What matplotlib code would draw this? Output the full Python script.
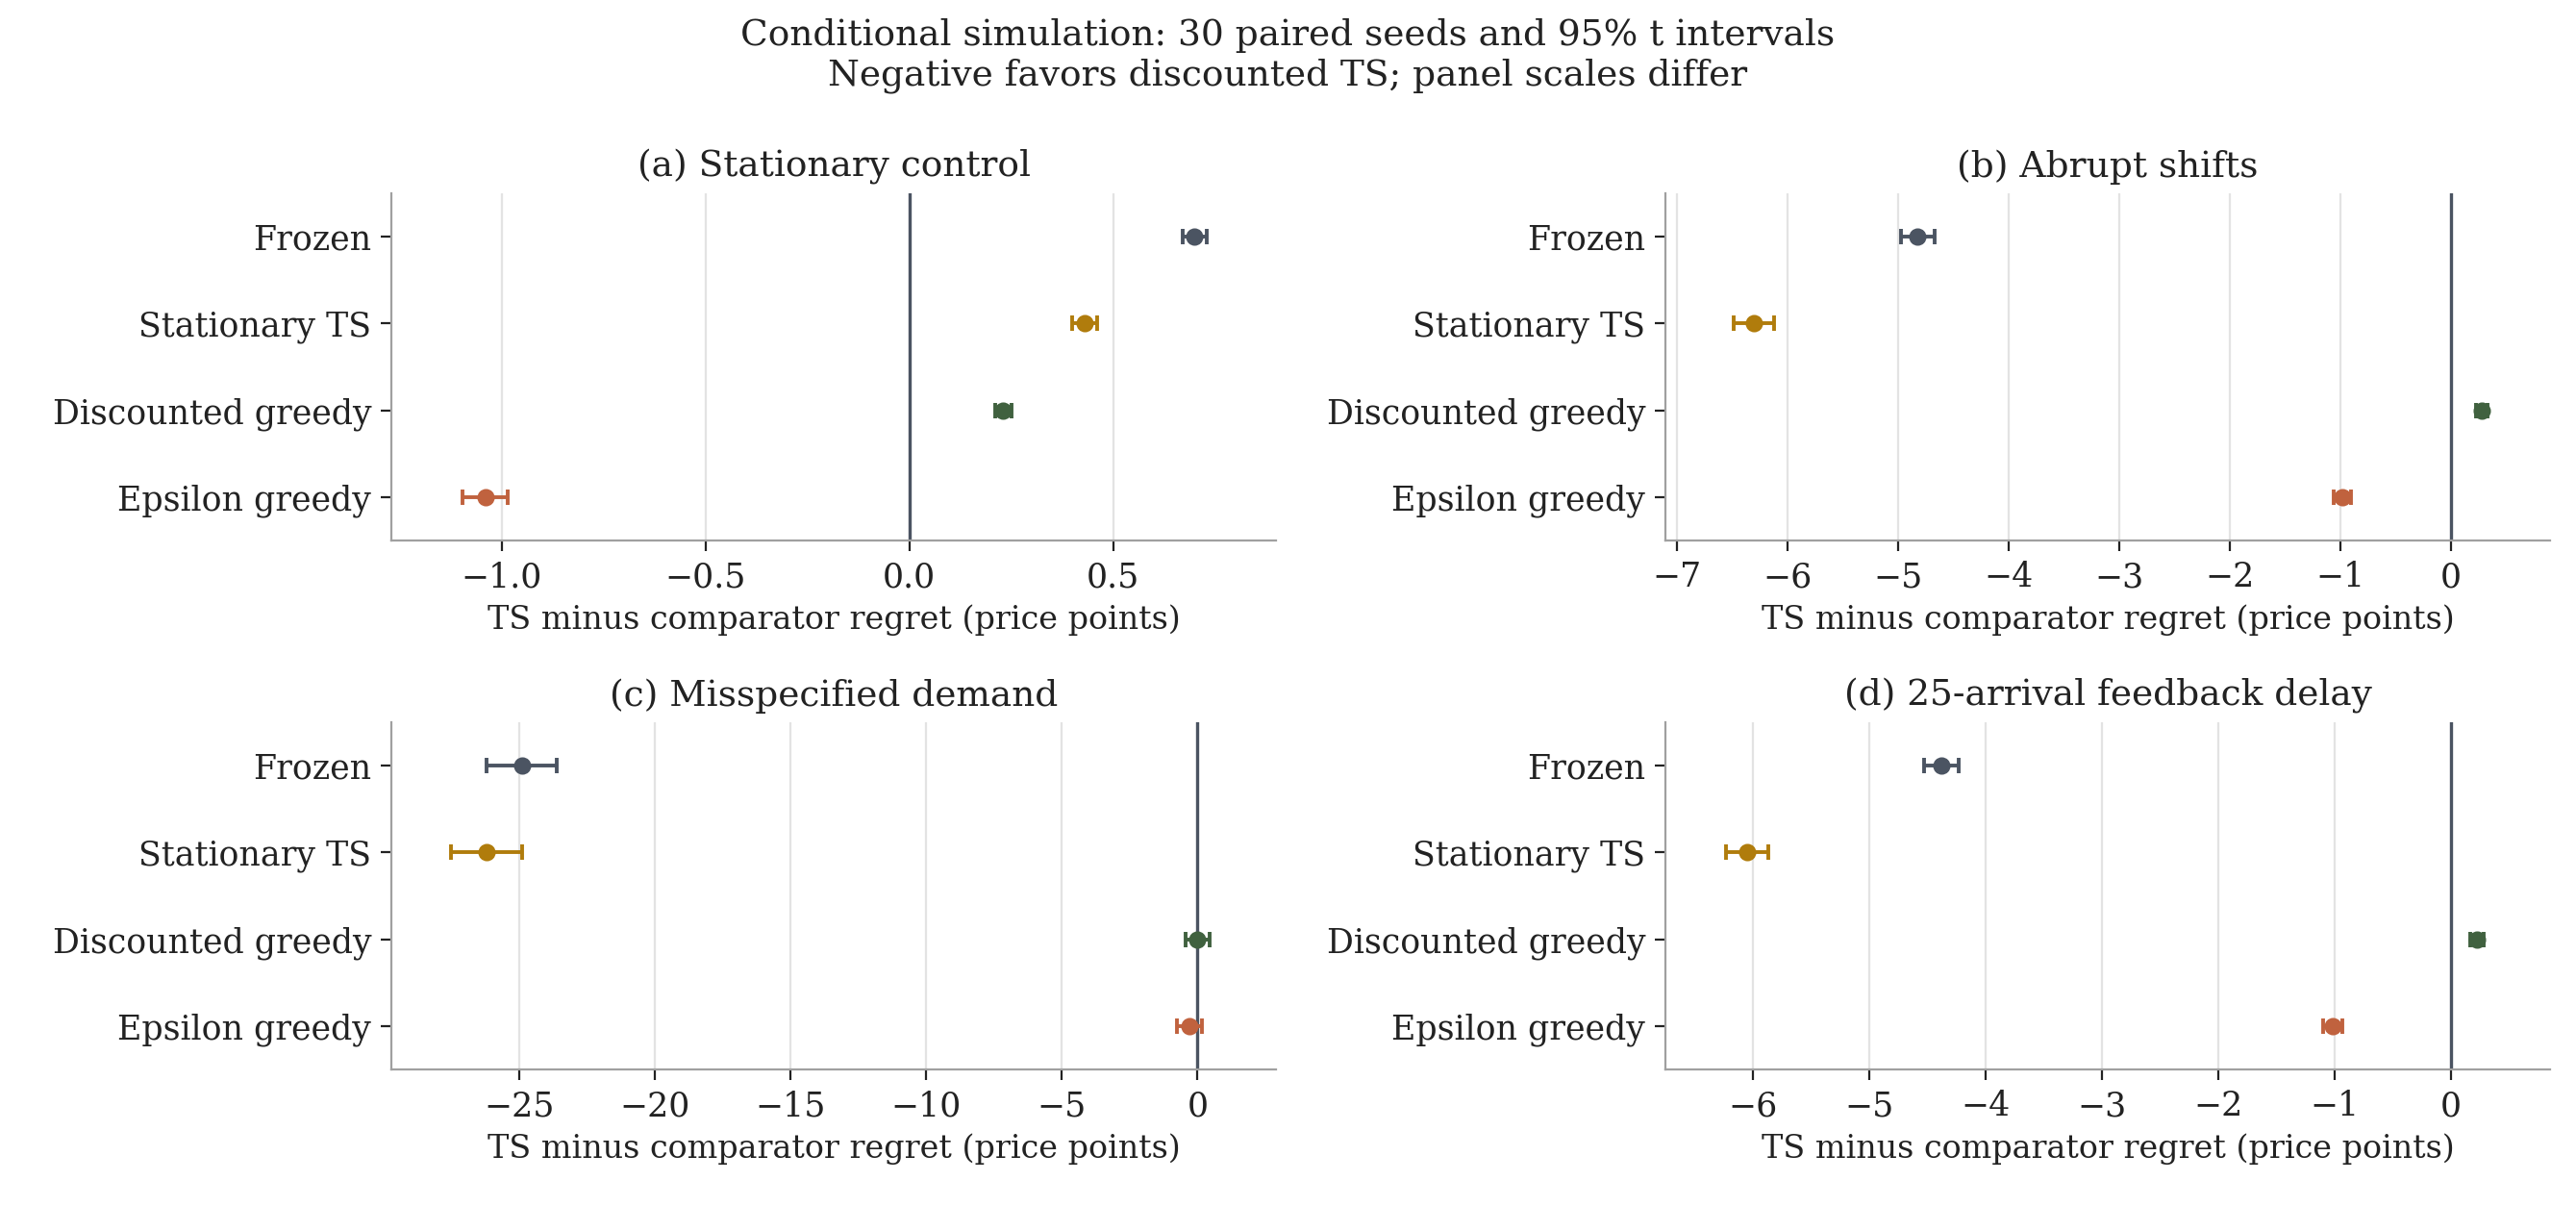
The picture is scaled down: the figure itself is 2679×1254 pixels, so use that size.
import numpy as np
import matplotlib
matplotlib.use("Agg")
import matplotlib.pyplot as plt

comparators = ["Frozen", "Stationary TS", "Discounted greedy", "Epsilon greedy"]
colors = ["#4b5462", "#b07c0c", "#40613f", "#c0623e"]

titles = ["(a) Stationary control", "(b) Abrupt shifts",
          "(c) Misspecified demand", "(d) 25-arrival feedback delay"]
means = [
    [0.70, 0.43, 0.23, -1.04],
    [-4.82, -6.30, 0.28, -0.98],
    [-24.9, -26.2, 0.0, -0.3],
    [-4.38, -6.05, 0.22, -1.02],
]
halfwidths = [
    [0.03, 0.03, 0.02, 0.055],
    [0.15, 0.18, 0.05, 0.08],
    [1.3, 1.3, 0.45, 0.45],
    [0.15, 0.18, 0.06, 0.08],
]
xlims = [(-1.27, 0.9), (-7.1, 0.9), (-29.7, 2.9), (-6.75, 0.85)]
xticks = [[-1.0, -0.5, 0.0, 0.5], list(range(-7, 1)),
          [-25, -20, -15, -10, -5, 0], list(range(-6, 1))]

plt.rcParams["font.family"] = "DejaVu Serif"
fig, axes = plt.subplots(2, 2, figsize=(13.395, 6.27), dpi=200)
fig.subplots_adjust(left=0.152, right=0.99, top=0.84, bottom=0.113,
                    wspace=0.44, hspace=0.52)

y = np.arange(len(comparators))[::-1]
for ax, title, m, h, xl, xt in zip(axes.flat, titles, means, halfwidths, xlims, xticks):
    ax.axvline(0, color="#4b5462", lw=1.2, zorder=1)
    for yi, mi, hi, c in zip(y, m, h, colors):
        ax.errorbar(mi, yi, xerr=hi, fmt="o", color=c, ms=5.5, capsize=3,
                    elinewidth=1.4, capthick=1.4, zorder=3)
    ax.set_yticks(y)
    ax.set_yticklabels(comparators, fontsize=12.5)
    ax.set_ylim(-0.5, 3.5)
    ax.set_xlim(*xl)
    ax.set_xticks(xt)
    ax.set_xticklabels([(f"{t:.1f}" if isinstance(t, float) else str(t)).replace("-", "\u2212") for t in xt],
                       fontsize=12.5)
    ax.grid(axis="x", color="#e3e3e3", lw=0.8, zorder=0)
    ax.set_axisbelow(True)
    for s in ["top", "right"]:
        ax.spines[s].set_visible(False)
    for s in ["left", "bottom"]:
        ax.spines[s].set_color("#a0a0a0")
    ax.tick_params(colors="#222222", length=4)
    ax.set_title(title, fontsize=13.5, color="#222222")
    ax.set_xlabel("TS minus comparator regret (price points)", fontsize=12, color="#222222")

fig.suptitle("Conditional simulation: 30 paired seeds and 95% t intervals\n"
             "Negative favors discounted TS; panel scales differ",
             fontsize=13.5, color="#222222", y=0.985)
fig.savefig("out.png", dpi=200)
